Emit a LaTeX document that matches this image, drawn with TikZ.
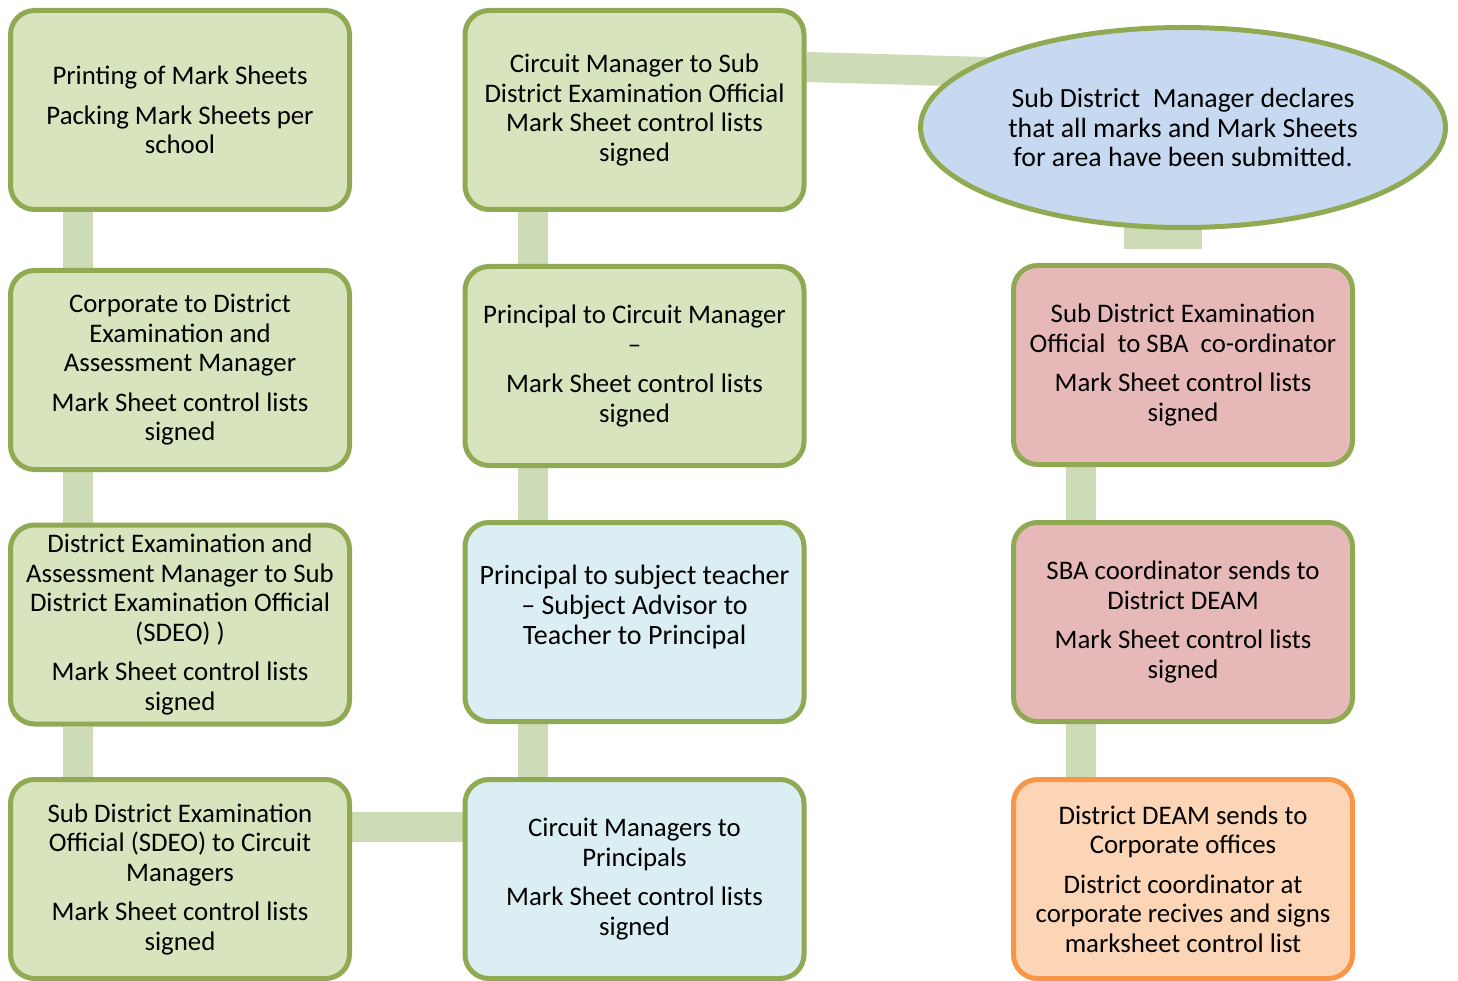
\documentclass[tikz,border=0pt]{standalone}
\usepackage{fontspec}
\setmainfont{Carlito}
\usetikzlibrary{shapes.geometric,backgrounds}
\definecolor{boxgreen}{HTML}{D7E4BD}
\definecolor{edgegreen}{HTML}{8FAA53}
\definecolor{barg}{HTML}{CDDBB6}
\definecolor{boxblue}{HTML}{DAEEF3}
\definecolor{boxpink}{HTML}{E6B9B8}
\definecolor{boxorange}{HTML}{FBD5B5}
\definecolor{edgeorange}{HTML}{F79646}
\definecolor{ellblue}{HTML}{C6D9F1}
\begin{document}
\begin{tikzpicture}[x=1pt,y=-1pt,
  stage/.style={rectangle, rounded corners=24pt, draw=edgegreen, line width=5pt,
    minimum width=339pt, minimum height=199pt, inner sep=0pt, align=center,
    font=\fontsize{26.8}{29.5}\selectfont, text=black},
  greenbox/.style={stage, fill=boxgreen},
  bluebox/.style={stage, fill=boxblue},
  pinkbox/.style={stage, fill=boxpink},
  orangebox/.style={stage, fill=boxorange, draw=edgeorange},
  oval/.style={ellipse, draw=edgegreen, line width=5pt, fill=ellblue,
    minimum width=525pt, minimum height=200pt, inner sep=0pt, align=center,
    font=\fontsize{27.8}{29.5}\selectfont},
  bar/.style={draw=barg, line width=30pt},
  widebar/.style={draw=barg, line width=78pt}]
\useasboundingbox (0,0) rectangle (1458,981);

% column 1
\node[greenbox] (c1a) at (180,110) {Printing of Mark Sheets\\[10pt]Packing Mark Sheets per\\school};
\node[greenbox] (c1b) at (180,370) {Corporate to District\\Examination and\\Assessment Manager\\[10pt]Mark Sheet control lists\\signed};
\node[greenbox] (c1c) at (180,624.5) {District Examination and\\Assessment Manager to Sub\\District Examination Official\\(SDEO) )\\[10pt]Mark Sheet control lists\\signed};
\node[greenbox] (c1d) at (180,879) {Sub District Examination\\Official (SDEO) to Circuit\\Managers\\[10pt]Mark Sheet control lists\\signed};

% column 2
\node[greenbox] (c2a) at (634.5,110) {Circuit Manager to Sub\\District Examination Official\\Mark Sheet control lists\\signed};
\node[greenbox] (c2b) at (634.5,366) {Principal to Circuit Manager\\–\\[10pt]Mark Sheet control lists\\signed};
\node[bluebox, font=\fontsize{28}{30}\selectfont] (c2c) at (634.5,622) {Principal to subject teacher\\– Subject Advisor to\\Teacher to Principal\\[4pt]\mbox{}};
\node[bluebox] (c2d) at (634.5,879) {Circuit Managers to\\Principals\\[10pt]Mark Sheet control lists\\signed};

% column 3
\node[oval] (ell) at (1183,127.5) {Sub District~~Manager declares\\that all marks and Mark Sheets\\for area have been submitted.};
\node[pinkbox] (c3a) at (1183,365) {Sub District Examination\\Official~~to SBA~~co-ordinator\\[10pt]Mark Sheet control lists\\signed};
\node[pinkbox] (c3b) at (1183,622) {SBA coordinator sends to\\District DEAM\\[10pt]Mark Sheet control lists\\signed};
\node[orangebox] (c3c) at (1183,879) {District DEAM sends to\\Corporate offices\\[10pt]District coordinator at\\corporate recives and signs\\marksheet control list};

\coordinate (gapend) at ([xshift=-20pt,yshift=13.5pt]c3a.north);

\begin{pgfonlayer}{background}
  \draw[bar] ([xshift=-102pt]c1a.south) -- ([xshift=-102pt]c1b.north);
  \draw[bar] ([xshift=-102pt]c1b.south) -- ([xshift=-102pt]c1c.north);
  \draw[bar] ([xshift=-102pt]c1c.south) -- ([xshift=-102pt]c1d.north);
  \draw[bar] ([xshift=-101.5pt]c2a.south) -- ([xshift=-101.5pt]c2b.north);
  \draw[bar] ([xshift=-101.5pt]c2b.south) -- ([xshift=-101.5pt]c2c.north);
  \draw[bar] ([xshift=-101.5pt]c2c.south) -- ([xshift=-101.5pt]c2d.north);
  \draw[bar] ([xshift=-102pt]c3a.south) -- ([xshift=-102pt]c3b.north);
  \draw[bar] ([xshift=-102pt]c3b.south) -- ([xshift=-102pt]c3c.north);
  \draw[bar] ([yshift=52pt]c1d.east) -- ([yshift=52pt]c2d.west);
  \draw[bar] ([yshift=43pt]c2a.east) -- ([yshift=50pt]ell.center);
  \draw[widebar] ([xshift=-20pt]ell.center) -- (gapend);
\end{pgfonlayer}
\end{tikzpicture}
\end{document}
